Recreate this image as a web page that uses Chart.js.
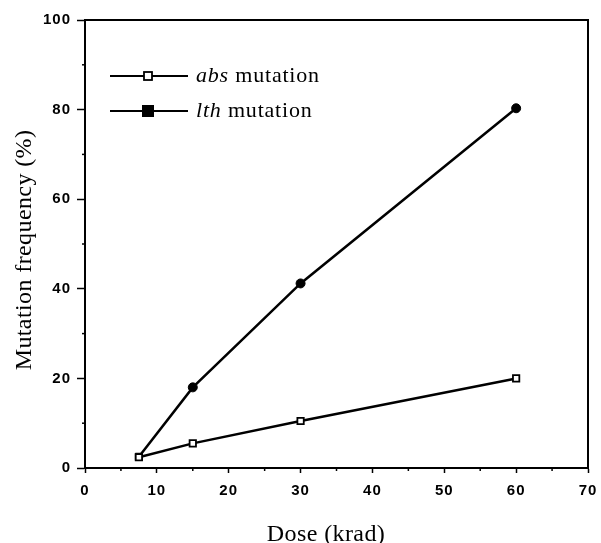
<!DOCTYPE html>
<html>
<head>
<meta charset="utf-8">
<script src="https://cdn.jsdelivr.net/npm/chart.js@4.4.0/dist/chart.umd.min.js"></script>
<style>
  html, body { margin: 0; padding: 0; background: #fff; }
  #wrap { width: 601px; height: 543px; }
</style>
</head>
<body>
<div id="wrap"><canvas id="myChart"></canvas></div>
<script>
const doses = [7.5, 15, 30, 60];
const absValues = [2.4, 5.5, 10.5, 20];
const lthValues = [2.5, 18, 41.2, 80.3];
const legendLabels = [['abs', ' mutation', 'rect'], ['lth', ' mutation', 'filled']];
const xTitle = 'Dose (krad)';
const yTitle = 'Mutation frequency (%)';

const serif = '"Liberation Serif", "DejaVu Serif", serif';
const sans = '"Liberation Sans", Arial, sans-serif';

function toPoints(xs, ys) {
    return xs.map((x, i) => ({ x: x, y: ys[i] }));
}

// wider tick digits like the scanned original
const spacing = {
    id: 'spacing',
    beforeDraw(chart) { chart.ctx.letterSpacing = '1px'; },
    afterDraw(chart) { chart.ctx.letterSpacing = '0px'; }
};

// frame, minor ticks, axis titles and the mixed-style legend
const extras = {
    id: 'extras',
    afterDraw(chart) {
        const ctx = chart.ctx;
        const a = chart.chartArea;
        const xs = chart.scales.x;
        const ys = chart.scales.y;
        ctx.save();
        ctx.strokeStyle = '#000';
        ctx.lineWidth = 2;
        ctx.strokeRect(a.left, a.top, a.right - a.left, a.bottom - a.top);

        ctx.lineWidth = 1.5;
        for (let v = 5; v < 70; v += 10) {
            const px = xs.getPixelForValue(v);
            ctx.beginPath();
            ctx.moveTo(px, a.bottom);
            ctx.lineTo(px, a.bottom + 3);
            ctx.stroke();
        }
        for (let v = 10; v < 100; v += 20) {
            const py = ys.getPixelForValue(v);
            ctx.beginPath();
            ctx.moveTo(a.left, py);
            ctx.lineTo(a.left - 3, py);
            ctx.stroke();
        }

        ctx.fillStyle = '#000';
        ctx.letterSpacing = '0.4px';
        ctx.font = '24px ' + serif;
        ctx.textAlign = 'center';
        ctx.textBaseline = 'alphabetic';
        ctx.fillText(xTitle, 326, 541);
        ctx.save();
        ctx.translate(31, 250);
        ctx.rotate(-Math.PI / 2);
        ctx.fillText(yTitle, 0, 0);
        ctx.restore();

        const rows = [76, 111];
        ctx.textAlign = 'left';
        ctx.letterSpacing = '0.8px';
        legendLabels.forEach((lab, i) => {
            const y = rows[i];
            ctx.lineWidth = 2;
            ctx.beginPath();
            ctx.moveTo(110, y);
            ctx.lineTo(188, y);
            ctx.stroke();
            if (lab[2] === 'rect') {
                ctx.fillStyle = '#fff';
                ctx.fillRect(144, y - 4, 8, 8);
                ctx.lineWidth = 1.8;
                ctx.strokeRect(144, y - 4, 8, 8);
            } else {
                ctx.fillStyle = '#000';
                ctx.fillRect(142, y - 6, 12, 12);
            }
            ctx.fillStyle = '#000';
            ctx.textBaseline = 'middle';
            ctx.font = 'italic 22px ' + serif;
            ctx.fillText(lab[0], 196, y);
            const w = ctx.measureText(lab[0]).width;
            ctx.font = '22px ' + serif;
            ctx.fillText(lab[1], 196 + w, y);
        });
        ctx.restore();
    }
};

new Chart(document.getElementById('myChart'), {
    type: 'scatter',
    data: {
        datasets: [{
            label: 'abs mutation',
            data: toPoints(doses, absValues),
            showLine: true,
            borderColor: '#000',
            borderWidth: 2.5,
            pointStyle: 'rect',
            pointRadius: 4.5,
            pointBackgroundColor: '#fff',
            pointBorderColor: '#000',
            pointBorderWidth: 1.8
        }, {
            label: 'lth mutation',
            data: toPoints(doses, lthValues),
            showLine: true,
            borderColor: '#000',
            borderWidth: 2.5,
            pointStyle: ['rect', 'circle', 'circle', 'circle'],
            pointRadius: [5, 4.5, 4.5, 4.5],
            pointBackgroundColor: '#000',
            pointBorderColor: '#000',
            pointBorderWidth: 1
        }]
    },
    options: {
        responsive: true,
        maintainAspectRatio: false,
        animation: false,
        layout: { padding: { left: 0, right: 13, top: 20, bottom: 0 } },
        plugins: {
            legend: { display: false },
            tooltip: { enabled: false }
        },
        scales: {
            x: {
                type: 'linear',
                min: 0,
                max: 70,
                afterFit(scale) {
                    scale.height = 75;
                    scale.paddingRight = 0;
                    scale.paddingLeft = 0;
                },
                border: { color: '#000', width: 2 },
                grid: { drawOnChartArea: false, drawTicks: true, tickLength: 5, tickColor: '#000', tickWidth: 1.5 },
                ticks: { stepSize: 10, color: '#000', padding: 9, font: { family: sans, size: 15, weight: 'bold' } }
            },
            y: {
                min: 0,
                max: 100,
                afterFit(scale) {
                    scale.width = 85;
                    scale.paddingTop = 0;
                    scale.paddingBottom = 0;
                },
                border: { color: '#000', width: 2 },
                grid: { drawOnChartArea: false, drawTicks: true, tickLength: 8, tickColor: '#000', tickWidth: 1.5 },
                ticks: { stepSize: 20, color: '#000', padding: 6, font: { family: sans, size: 15, weight: 'bold' } }
            }
        }
    },
    plugins: [spacing, extras]
});
</script>
</body>
</html>
